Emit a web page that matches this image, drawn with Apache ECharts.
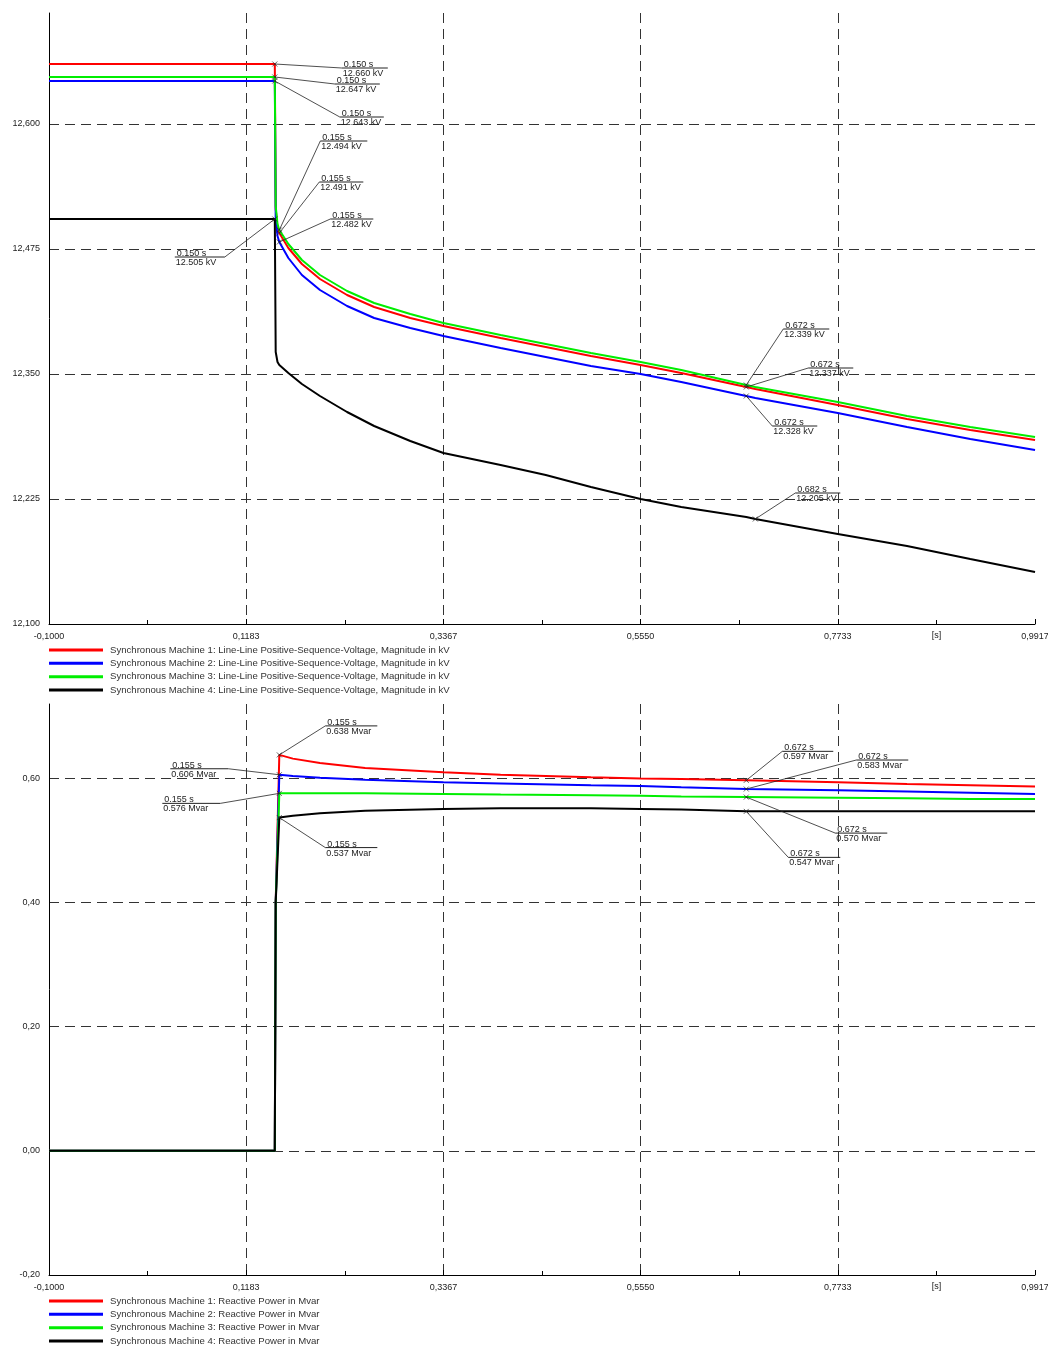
<!DOCTYPE html>
<html><head><meta charset="utf-8">
<script src="https://cdn.jsdelivr.net/npm/echarts@6/dist/echarts.min.js"></script>
<style>html,body{margin:0;padding:0;background:#fff}#c{width:1048px;height:1347px}</style>
</head><body><div id="c"></div>
<script>
// ---------- DATA ----------
const namesV = [
  'Synchronous Machine 1: Line-Line Positive-Sequence-Voltage, Magnitude in kV',
  'Synchronous Machine 2: Line-Line Positive-Sequence-Voltage, Magnitude in kV',
  'Synchronous Machine 3: Line-Line Positive-Sequence-Voltage, Magnitude in kV',
  'Synchronous Machine 4: Line-Line Positive-Sequence-Voltage, Magnitude in kV'
];
const namesQ = [
  'Synchronous Machine 1: Reactive Power in Mvar',
  'Synchronous Machine 2: Reactive Power in Mvar',
  'Synchronous Machine 3: Reactive Power in Mvar',
  'Synchronous Machine 4: Reactive Power in Mvar'
];
const timeV = [-0.1, 0.150, 0.151, 0.153, 0.155, 0.165, 0.18, 0.20, 0.23, 0.26, 0.30, 0.3367, 0.40, 0.45, 0.50, 0.555, 0.60, 0.672, 0.682, 0.7733, 0.85, 0.92, 0.9917];
const sm1V = [12.660, 12.660, 12.515, 12.497, 12.491, 12.476, 12.460, 12.445, 12.429, 12.417, 12.406, 12.398, 12.386, 12.377, 12.368, 12.359, 12.351, 12.337, 12.335, 12.319, 12.305, 12.294, 12.284];
const sm2V = [12.643, 12.643, 12.505, 12.488, 12.482, 12.466, 12.449, 12.434, 12.418, 12.406, 12.396, 12.388, 12.376, 12.367, 12.358, 12.350, 12.342, 12.328, 12.326, 12.311, 12.297, 12.285, 12.274];
const sm3V = [12.647, 12.647, 12.518, 12.500, 12.494, 12.480, 12.464, 12.449, 12.433, 12.421, 12.410, 12.401, 12.389, 12.380, 12.371, 12.362, 12.354, 12.339, 12.337, 12.322, 12.308, 12.297, 12.287];
const sm4V = [12.505, 12.505, 12.372, 12.362, 12.359, 12.351, 12.340, 12.328, 12.312, 12.298, 12.283, 12.271, 12.259, 12.249, 12.237, 12.225, 12.217, 12.207, 12.205, 12.190, 12.178, 12.165, 12.152];

const timeQ = [-0.1, 0.150, 0.151, 0.155, 0.17, 0.20, 0.25, 0.3367, 0.40, 0.50, 0.555, 0.60, 0.672, 0.7733, 0.85, 0.92, 0.9917];
const sm1Q = [0, 0, 0.40, 0.638, 0.632, 0.625, 0.617, 0.610, 0.606, 0.602, 0.600, 0.599, 0.597, 0.594, 0.591, 0.589, 0.587];
const sm2Q = [0, 0, 0.40, 0.606, 0.604, 0.601, 0.598, 0.594, 0.592, 0.589, 0.588, 0.586, 0.583, 0.581, 0.579, 0.577, 0.575];
const sm3Q = [0, 0, 0.40, 0.576, 0.576, 0.576, 0.576, 0.575, 0.574, 0.573, 0.572, 0.571, 0.570, 0.569, 0.568, 0.567, 0.567];
const sm4Q = [0, 0, 0.40, 0.537, 0.540, 0.544, 0.548, 0.551, 0.552, 0.552, 0.551, 0.550, 0.547, 0.547, 0.547, 0.547, 0.547];

// axis ticks
const xMin = -0.1, xStep = 0.21833334, xMax = 0.9916667;
const vMin = 12.100, vMax = 12.711, vStep = 0.125;
const qMin = -0.20, qMax = 0.72, qStep = 0.20;
const xUnitLabel = '[s]';
const xUnitPos = 0.8825;

// annotations (time, value)
const annVTimes = [0.150, 0.150, 0.150, 0.155, 0.155, 0.155, 0.150, 0.672, 0.672, 0.672, 0.682];
const annVValues = [12.660, 12.647, 12.643, 12.494, 12.491, 12.482, 12.505, 12.339, 12.337, 12.328, 12.205];
const annQTimes = [0.155, 0.155, 0.155, 0.155, 0.672, 0.672, 0.672, 0.672];
const annQValues = [0.638, 0.606, 0.576, 0.537, 0.597, 0.583, 0.570, 0.547];

// annotation label layout: [dx, dy, lineWidth, side]  (pixel offsets of label line from point)
const annVLayout = [[67,4,46,'l'],[60,7,45,'l'],[65,36,44,'l'],[41,-89,47,'l'],[40,-51,44,'l'],[51,-23,43,'l'],[-50,38,50,'r'],[37,-56,46,'l'],[62,-19,45,'l'],[26,30,45,'l'],[40,-26,45,'l']];
const annQLayout = [[46,-29,52,'l'],[-51,-6,58,'r'],[-59,10,58,'r'],[46,30,52,'l'],[36,-29,51,'l'],[110,-29,52,'l'],[89,36,52,'l'],[42,46,52,'l']];

// ---------- CHART ----------
const FONT = '"Liberation Sans", Arial, sans-serif';
const colors = ['#ff0000', '#0000ff', '#00ee00', '#000000'];
const chart = echarts.init(document.getElementById('c'), null, {renderer: 'canvas'});

function zip(t, v) { return t.map((x, i) => [x, v[i]]); }

function xAxis(gi) {
  return {
    type: 'value', gridIndex: gi, min: xMin, max: xMax, interval: xStep,
    axisLine: {onZero: false, lineStyle: {color: '#000', width: 1}},
    axisTick: {show: true, inside: true, length: 5, lineStyle: {color: '#000'}},
    minorTick: {show: true, splitNumber: 2, length: 4, lineStyle: {color: '#000'}},
    axisLabel: {fontSize: 9, fontFamily: FONT, color: '#222', margin: 8,
      formatter: v => v.toFixed(4).replace('.', ',')},
    splitLine: {show: true, showMinLine: false, showMaxLine: false, lineStyle: {color: '#333', type: [10, 6], width: 1}},
    minorSplitLine: {show: false}
  };
}
function yAxis(gi, mn, mx, st, dec) {
  return {
    type: 'value', gridIndex: gi, min: mn, max: mx, interval: st,
    axisLine: {show: true, onZero: false, lineStyle: {color: '#000', width: 1}},
    axisTick: {show: false},
    axisLabel: {fontSize: 9, fontFamily: FONT, color: '#222', margin: 9, showMaxLabel: false,
      padding: [3, 0, 0, 0],
      formatter: v => v.toFixed(dec).replace('.', ',')},
    splitLine: {show: true, showMinLine: false, showMaxLine: false, lineStyle: {color: '#333', type: [10, 6], width: 1}}
  };
}

function annRenderer(times, values, layout, unit) {
  return function (params, api) {
    const i = params.dataIndex;
    const p = api.coord([api.value(0), api.value(1)]);
    const L = layout[i];
    const ax = p[0] + L[0], ay = p[1] + L[1];
    const x0 = L[3] === 'r' ? ax - L[2] : ax;
    const t1 = times[i].toFixed(3) + ' s';
    const t2 = values[i].toFixed(3) + ' ' + unit;
    const s = 2.5;
    return {
      type: 'group',
      children: [
        {type: 'line', shape: {x1: p[0], y1: p[1], x2: ax, y2: ay}, style: {stroke: '#222', lineWidth: 0.8}},
        {type: 'line', shape: {x1: x0, y1: ay, x2: x0 + L[2], y2: ay}, style: {stroke: '#222', lineWidth: 1}},
        {type: 'line', shape: {x1: p[0]-s, y1: p[1]-s, x2: p[0]+s, y2: p[1]+s}, style: {stroke: '#222', lineWidth: 0.7}},
        {type: 'line', shape: {x1: p[0]-s, y1: p[1]+s, x2: p[0]+s, y2: p[1]-s}, style: {stroke: '#222', lineWidth: 0.7}},
        {type: 'text', style: {x: x0 + 2, y: ay + 1, text: t1, font: '9px ' + FONT, fill: '#222', verticalAlign: 'bottom', align: 'left'}},
        {type: 'text', style: {x: x0 + 1, y: ay + 1, text: t2, font: '9px ' + FONT, fill: '#222', verticalAlign: 'top', align: 'left'}}
      ]
    };
  };
}

const series = [];
[sm1V, sm2V, sm3V, sm4V].forEach((v, k) => series.push({
  type: 'line', name: namesV[k], xAxisIndex: 0, yAxisIndex: 0, data: zip(timeV, v),
  color: colors[k], symbol: 'none', showSymbol: false, lineStyle: {width: 2, color: colors[k]},
  itemStyle: {color: colors[k]}, animation: false, z: 2 + k
}));
[sm1Q, sm2Q, sm3Q, sm4Q].forEach((v, k) => series.push({
  type: 'line', name: namesQ[k], xAxisIndex: 1, yAxisIndex: 1, data: zip(timeQ, v),
  color: colors[k], symbol: 'none', showSymbol: false, lineStyle: {width: 2, color: colors[k]},
  itemStyle: {color: colors[k]}, animation: false, z: 2 + k
}));
series.push({
  type: 'custom', xAxisIndex: 0, yAxisIndex: 0, silent: true, z: 20, clip: false, animation: false,
  data: zip(annVTimes, annVValues),
  renderItem: annRenderer(annVTimes, annVValues, annVLayout, 'kV')
});
series.push({
  type: 'custom', xAxisIndex: 1, yAxisIndex: 1, silent: true, z: 20, clip: false, animation: false,
  data: zip(annQTimes, annQValues),
  renderItem: annRenderer(annQTimes, annQValues, annQLayout, 'Mvar')
});

function legend(names, top) {
  return {
    data: names, orient: 'vertical', left: 49, top: top, height: 80, width: 600, padding: 0,
    itemWidth: 54, itemHeight: 3, itemGap: 3.33, icon: 'rect', selectedMode: false,
    textStyle: {fontSize: 9.6, lineHeight: 10, fontFamily: FONT, color: '#333', padding: [0, 0, 0, 2]}
  };
}

chart.setOption({
  backgroundColor: '#fff',
  animation: false,
  grid: [
    {left: 49, top: 13, right: 13, height: 611, outerBoundsMode: 'none', containLabel: false},
    {left: 49, top: 704, right: 13, height: 571, outerBoundsMode: 'none', containLabel: false}
  ],
  xAxis: [xAxis(0), xAxis(1)],
  yAxis: [yAxis(0, vMin, vMax, vStep, 3), yAxis(1, qMin, qMax, qStep, 2)],
  legend: [legend(namesV, 645), legend(namesQ, 1296)],
  series: series
});

// unit label "[s]" on both x axes
const p0 = chart.convertToPixel({gridIndex: 0}, [xUnitPos, vMin]);
const p1 = chart.convertToPixel({gridIndex: 1}, [xUnitPos, qMin]);
chart.setOption({
  graphic: [
    {type: 'text', x: p0[0], y: p0[1] + 7, style: {text: xUnitLabel, font: '9px ' + FONT, fill: '#222', align: 'center', verticalAlign: 'top'}},
    {type: 'text', x: p1[0], y: p1[1] + 7, style: {text: xUnitLabel, font: '9px ' + FONT, fill: '#222', align: 'center', verticalAlign: 'top'}}
  ]
});
</script>
</body></html>
